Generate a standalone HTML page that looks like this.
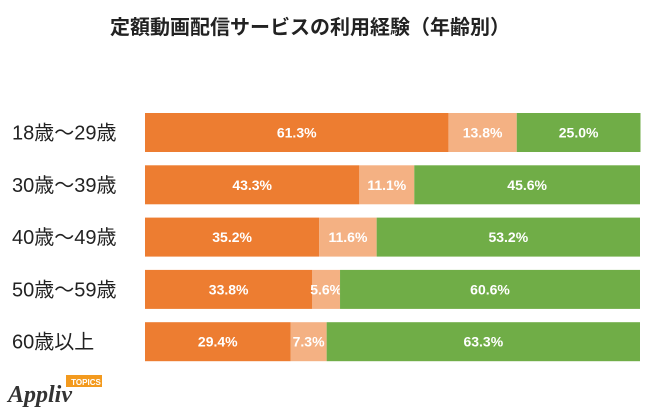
<!DOCTYPE html>
<html><head><meta charset="utf-8"><style>
body{margin:0;width:650px;height:409px;background:#fff;overflow:hidden;font-family:"Liberation Sans","Noto Sans CJK JP",sans-serif;}
</style></head><body>
<svg width="650" height="409" id="chart">
<text x="310" y="34" text-anchor="middle" font-size="20" font-weight="bold" fill="#222" font-family="Liberation Sans, Noto Sans CJK JP, sans-serif">定額動画配信サービスの利用経験（年齢別）</text>
<g id="bars"></g>
<g>
<text x="8" y="402" font-size="24" font-style="italic" font-weight="bold" fill="#333" font-family="Liberation Serif, serif">Appliv</text>
<rect x="66" y="375" width="36" height="12" fill="#f39a1e" transform="skew(-8)"></rect>
<text x="86" y="385" font-size="8" font-weight="bold" fill="#fff" text-anchor="middle">TOPICS</text>
</g>
</svg>
<script>
const categories=["18歳〜29歳","30歳〜39歳","40歳〜49歳","50歳〜59歳","60歳以上"];
const s1=[61.3,43.3,35.2,33.8,29.4];
const s2=[13.8,11.1,11.6,5.6,7.3];
const s3=[25.0,45.6,53.2,60.6,63.3];
const colors=["#ED7D31","#F4B183","#70AD47"];
const x0=145,w=495,y0=113,step=52.3,h=39;
const xs=v=>v/100*w;
const g=document.getElementById('bars');
const ns="http://www.w3.org/2000/svg";
categories.forEach((c,i)=>{
  const y=y0+i*step;
  const t=document.createElementNS(ns,'text');
  t.setAttribute('x',12);t.setAttribute('y',y+h/2+7);t.setAttribute('font-size','20');t.setAttribute('fill','#222');
  t.textContent=c;
  
  
  g.appendChild(t);
  let x=x0;
  [s1[i],s2[i],s3[i]].forEach((v,j)=>{
    const r=document.createElementNS(ns,'rect');
    r.setAttribute('x',x);r.setAttribute('y',y);r.setAttribute('width',xs(v));r.setAttribute('height',h);r.setAttribute('fill',colors[j]);
    
    
    g.appendChild(r);
    const l=document.createElementNS(ns,'text');
    l.setAttribute('x',x+xs(v)/2);l.setAttribute('y',y+h/2+5);l.setAttribute('text-anchor','middle');
    l.setAttribute('font-size','14');l.setAttribute('font-weight','bold');l.setAttribute('fill','#fff');
    l.textContent=v.toFixed(1)+'%';
    
    
    g.appendChild(l);
    x+=xs(v);
  });
});
</script>
</body></html>
